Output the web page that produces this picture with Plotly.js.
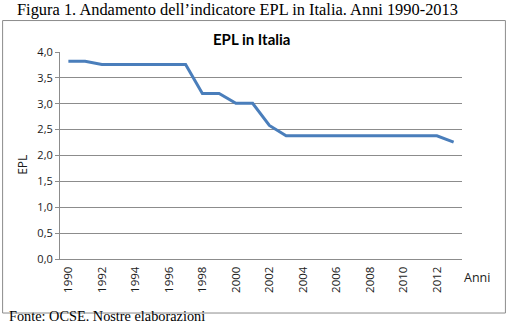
<!DOCTYPE html>
<html>
<head>
<meta charset="utf-8">
<script src="https://cdn.plot.ly/plotly-3.0.1.min.js"></script>
<style>html,body{margin:0;padding:0;background:#fff;}#chart{width:510px;height:327px;}</style>
</head>
<body>
<div id="chart"></div>
<script>
var years = ['1990','1991','1992','1993','1994','1995','1996','1997','1998','1999','2000','2001','2002','2003','2004','2005','2006','2007','2008','2009','2010','2011','2012','2013'];
var epl = [3.82,3.82,3.76,3.76,3.76,3.76,3.76,3.76,3.20,3.20,3.01,3.01,2.58,2.38,2.38,2.38,2.38,2.38,2.38,2.38,2.38,2.38,2.38,2.26];
var xTickLabels = ['1990','1992','1994','1996','1998','2000','2002','2004','2006','2008','2010','2012'];
var yTicks = [0,0.5,1,1.5,2,2.5,3,3.5,4];

var tickFont = {family:'Open Sans, sans-serif', size:11, color:'#1a1a1a'};
var trace = {
  x: years, y: epl, type:'scatter', mode:'lines',
  line:{color:'#4a7ebb', width:3}, hoverinfo:'skip'
};
var layout = {
  width:510, height:327,
  margin:{l:60, r:48, t:52, b:68},
  paper_bgcolor:'#fff', plot_bgcolor:'#fff',
  separators:',.',
  showlegend:false,
  xaxis:{
    type:'category', categoryorder:'array', categoryarray:years,
    tickmode:'array', tickvals:xTickLabels, ticktext:xTickLabels,
    tickangle:-90, tickfont:{family:'Open Sans, sans-serif', size:11.5, color:'#1a1a1a'}, showgrid:false,
    showline:true, linecolor:'#8c8c8c', linewidth:1, ticks:'outside', ticklen:2, tickcolor:'rgba(0,0,0,0)', zeroline:false,
    range:[-0.5, 23.5], fixedrange:true
  },
  yaxis:{
    range:[0,4], tickvals:yTicks, tickformat:'.1f', tickfont:tickFont,
    showgrid:true, gridcolor:'#8c8c8c', gridwidth:1,
    showline:true, linecolor:'#8c8c8c', linewidth:1,
    ticks:'outside', ticklen:4, tickcolor:'#8c8c8c',
    zeroline:false, fixedrange:true
  },
  shapes:[{
    type:'rect', xref:'paper', yref:'paper',
    x0:-0.1428, x1:1.108, y0:-0.261, y1:1.152,
    line:{color:'#8c8c8c', width:1}, fillcolor:'rgba(0,0,0,0)', layer:'below'
  }],
  annotations:[
    {text:'Figura 1. Andamento dell’indicatore EPL in Italia. Anni 1990-2013', xref:'paper', yref:'paper',
     x:-0.113, y:1.205, xanchor:'left', yanchor:'middle', showarrow:false,
     font:{family:'Liberation Serif, Times New Roman, serif', size:16.4, color:'#000'}},
    {text:'<b>EPL in Italia</b>', xref:'paper', yref:'paper', x:0.476, y:1.01, xanchor:'center', yanchor:'bottom', showarrow:false,
     font:{family:'Lato, sans-serif', size:15, color:'#000'}},
    {text:'EPL', xref:'paper', yref:'paper', x:-0.094, y:0.456, xanchor:'center', yanchor:'middle', textangle:-90, showarrow:false,
     font:{family:'Open Sans, sans-serif', size:12, color:'#1a1a1a'}},
    {text:'Anni', xref:'paper', yref:'paper', x:1.0, y:-0.090, xanchor:'left', yanchor:'middle', showarrow:false,
     font:{family:'Open Sans, sans-serif', size:12.5, color:'#1a1a1a'}},
    {text:'Fonte: OCSE. Nostre elaborazioni', xref:'paper', yref:'paper', x:-0.133, y:-0.276, xanchor:'left', yanchor:'middle', showarrow:false,
     font:{family:'Liberation Serif, Times New Roman, serif', size:14.3, color:'#000'}}
  ]
};
Plotly.newPlot('chart', [trace], layout, {displayModeBar:false, staticPlot:true});
</script>
</body>
</html>
